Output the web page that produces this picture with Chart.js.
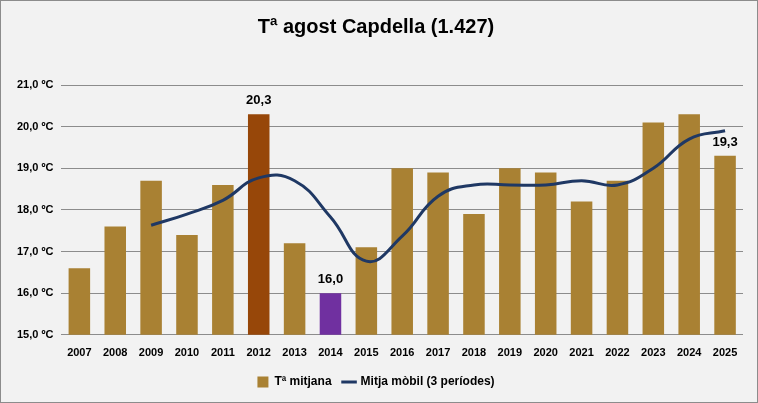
<!DOCTYPE html>
<html>
<head>
<meta charset="utf-8">
<script src="https://cdn.jsdelivr.net/npm/chart.js@4"></script>
<style>
  html, body { margin: 0; padding: 0; background: #fff; }
  #wrap {
    width: 756px; height: 401px;
    border: 1px solid #8c8c8c;
    background: #f2f2f2;
    position: relative;
  }
</style>
</head>
<body>
<div id="wrap"><canvas id="chart" width="756" height="401"></canvas></div>
<script>
const years = ["2007","2008","2009","2010","2011","2012","2013","2014","2015","2016",
               "2017","2018","2019","2020","2021","2022","2023","2024","2025"];
const tempMean = [16.6, 17.6, 18.7, 17.4, 18.6, 20.3, 17.2, 16.0, 17.1, 19.0,
                  18.9, 17.9, 19.0, 18.9, 18.2, 18.7, 20.1, 20.3, 19.3];
// moving average
const movingAvg = [null, null, 17.63, 17.9, 18.23, 18.77, 18.7, 17.83, 16.77, 17.37,
                   18.33, 18.6, 18.6, 18.6, 18.7, 18.6, 19.0, 19.7, 19.9];
const barColors = ["#a98133","#a98133","#a98133","#a98133","#a98133","#974709","#a98133","#7030a0","#a98133","#a98133",
                   "#a98133","#a98133","#a98133","#a98133","#a98133","#a98133","#a98133","#a98133","#a98133"];
const labelled = ["2012", "2014", "2025"];

const fontFam = "'Liberation Sans Narrow', 'Liberation Sans', Arial, sans-serif";

// value labels on selected bars
const barLabels = {
    id: "barLabels",
    afterDatasetsDraw(chart) {
        const ctx = chart.ctx;
        const meta = chart.getDatasetMeta(0);
        ctx.save();
        ctx.font = "bold 13px " + fontFam;
        ctx.fillStyle = "#000";
        ctx.textAlign = "center";
        ctx.textBaseline = "bottom";
        years.forEach((y, i) => {
            if (!labelled.includes(y)) return;
            const bar = meta.data[i];
            ctx.fillText(tempMean[i].toFixed(1).replace(".", ","), bar.x, bar.y - 7);
        });
        ctx.restore();
    }
};

new Chart(document.getElementById("chart"), {
    type: "bar",
    data: {
        labels: years,
        datasets: [
            {
                label: "Tª mitjana",
                data: tempMean,
                backgroundColor: barColors,
                barPercentage: 0.6,
                categoryPercentage: 1.0,
                order: 2,
                pointStyle: "rect"
            },
            {
                type: "line",
                label: "Mitja mòbil (3 períodes)",
                data: movingAvg,
                borderColor: "#1f3864",
                backgroundColor: "#1f3864",
                borderWidth: 3,
                pointRadius: 0,
                tension: 0.45,
                order: 1,
                pointStyle: "line"
            }
        ]
    },
    options: {
        responsive: false,
        animation: false,
        layout: { padding: { left: 8, right: 14, top: 0, bottom: 4 } },
        plugins: {
            title: {
                display: true,
                text: "Tª agost Capdella (1.427)",
                color: "#000",
                font: { family: fontFam, size: 20, weight: "bold" },
                padding: { top: 14, bottom: 46 }
            },
            legend: {
                position: "bottom",
                labels: {
                    color: "#000",
                    font: { family: fontFam, size: 12, weight: "bold" },
                    usePointStyle: true,
                    boxWidth: 11,
                    boxHeight: 11,
                    padding: 12,
                    sort: (a, b) => a.datasetIndex - b.datasetIndex
                }
            },
            tooltip: { enabled: false }
        },
        scales: {
            x: {
                grid: { display: false },
                border: { display: false },
                ticks: {
                    color: "#000",
                    font: { family: fontFam, size: 11, weight: "bold" },
                    maxRotation: 0,
                    padding: 4
                }
            },
            y: {
                min: 15,
                max: 21,
                grid: { color: "#8c8c8c", drawTicks: false, lineWidth: 1 },
                border: { display: false },
                ticks: {
                    stepSize: 1,
                    color: "#000",
                    padding: 8,
                    font: { family: fontFam, size: 11, weight: "bold" },
                    callback: v => v.toFixed(1).replace(".", ",") + " ºC"
                }
            }
        }
    },
    plugins: [barLabels]
});
</script>
</body>
</html>
